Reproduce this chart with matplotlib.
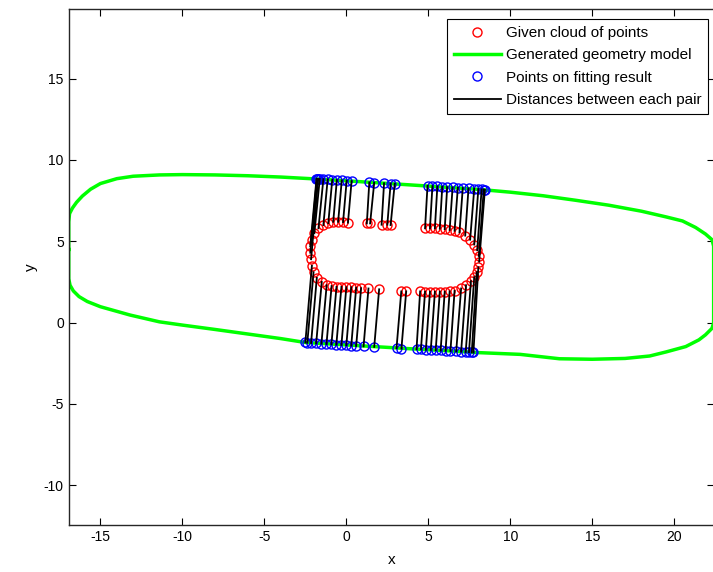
import matplotlib
matplotlib.use("Agg")
import matplotlib.pyplot as plt
import numpy as np

plt.rcParams['font.family'] = ['Liberation Sans', 'DejaVu Sans']
plt.rcParams['axes.unicode_minus'] = False

# generated geometry model (closed outline)
model_x = [-16.93, -16.93, -16.88, -16.7, -16.45, -16.1, -15.6, -15.0, -14.0, -13.0, -11.4, -10.0,
           -8.0, -6.0, -4.0, -2.0, 0.0, 2.0, 4.0, 6.0, 8.0, 10.0, 12.0, 14.0, 16.0,
           18.0, 19.5, 20.5, 21.3, 21.9, 22.3, 22.4, 22.4, 22.3, 21.9, 21.5, 20.7,
           19.5, 18.5, 17.0, 15.0, 13.0, 10.6, 8.0, 6.0, 4.0, 2.0, 0.0, -2.5, -4.0,
           -6.0, -8.0, -10.0, -11.4, -13.2, -15.0, -15.8, -16.3, -16.65, -16.85, -16.93, -16.93]
model_y = [4.5, 6.2, 6.7, 7.05, 7.4, 7.78, 8.2, 8.55, 8.85, 9.0, 9.08, 9.1,
           9.08, 9.03, 8.95, 8.84, 8.72, 8.59, 8.46, 8.33, 8.2, 8.02, 7.8, 7.52, 7.22,
           6.85, 6.5, 6.25, 5.85, 5.45, 5.1, 4.7, 0.0, -0.35, -0.75, -1.06, -1.47,
           -1.8, -2.05, -2.2, -2.25, -2.22, -1.95, -1.84, -1.72, -1.61, -1.49, -1.37, -1.22, -0.98,
           -0.7, -0.42, -0.15, 0.05, 0.47, 0.98, 1.3, 1.6, 1.95, 2.3, 2.7, 4.5]

# given cloud of points
cloud_x = [0.10, -0.20, -0.50, -0.80, -1.10, -1.40, -1.70, -1.95, -2.10, -2.20, -2.20, -2.15,
           -2.10, -2.00, -1.80, -1.50, -1.20, -0.90, -0.60, -0.30, 0.00, 0.30, 0.60, 0.90,
           1.35, 2.00, 3.35, 3.65, 1.25, 1.45, 2.15, 2.50, 2.70,
           4.80, 5.10, 5.40, 5.70, 6.00, 6.30, 6.60, 6.90, 7.25, 7.55, 7.80, 7.98, 8.08, 8.10,
           8.05, 7.95, 7.80, 7.60, 7.30, 7.00, 6.60, 6.30, 6.00, 5.70, 5.40, 5.10, 4.80, 4.50]
cloud_y = [6.15, 6.18, 6.20, 6.20, 6.12, 6.00, 5.80, 5.50, 5.10, 4.70, 4.30, 3.90,
           3.50, 3.10, 2.75, 2.50, 2.30, 2.25, 2.20, 2.20, 2.18, 2.18, 2.15, 2.12,
           2.10, 2.05, 1.92, 1.92, 6.10, 6.10, 6.02, 6.02, 6.00,
           5.80, 5.80, 5.80, 5.78, 5.75, 5.70, 5.65, 5.55, 5.35, 5.10, 4.80, 4.45, 4.10, 3.75,
           3.40, 3.10, 2.80, 2.55, 2.30, 2.10, 1.95, 1.92, 1.90, 1.90, 1.90, 1.90, 1.90, 1.92]

# matching points on the fitting result
fit_x = [0.32, 0.02, -0.28, -0.58, -0.86, -1.14, -1.40, -1.62, -1.74, -1.82, -1.80, -1.72,
         -2.50, -2.38, -2.15, -1.84, -1.52, -1.21, -0.91, -0.61, -0.30, 0.00, 0.30, 0.60,
         1.05, 1.70, 3.06, 3.36, 1.40, 1.70, 2.30, 2.70, 2.95,
         4.95, 5.25, 5.55, 5.85, 6.15, 6.48, 6.80, 7.10, 7.45, 7.80, 8.05, 8.25, 8.38, 8.45,
         7.75, 7.65, 7.48, 7.28, 7.00, 6.70, 6.35, 6.05, 5.75, 5.45, 5.15, 4.85, 4.55, 4.28]
fit_y = [8.70, 8.72, 8.74, 8.76, 8.78, 8.80, 8.82, 8.83, 8.83, 8.84, 8.84, 8.83,
         -1.22, -1.23, -1.25, -1.27, -1.29, -1.31, -1.33, -1.35, -1.37, -1.39, -1.41, -1.43,
         -1.46, -1.49, -1.57, -1.59, 8.62, 8.60, 8.57, 8.55, 8.54,
         8.41, 8.39, 8.37, 8.35, 8.33, 8.31, 8.29, 8.27, 8.25, 8.23, 8.21, 8.19, 8.18, 8.17,
         -1.83, -1.82, -1.81, -1.80, -1.78, -1.76, -1.74, -1.73, -1.71, -1.69, -1.67, -1.66, -1.64, -1.63]

fig = plt.figure(figsize=(7.13, 5.72), dpi=100)
ax = fig.add_axes([0.0964, 0.0827, 0.9045, 0.9010])

ax.plot(cloud_x, cloud_y, 'o', color='red', mfc='none', ms=6.5, mew=1.0,
        label='Given cloud of points')
ax.plot(model_x, model_y, '-', color='#00ff00', lw=2.5, label='Generated geometry model')
ax.plot(fit_x, fit_y, 'o', color='blue', mfc='none', ms=6.5, mew=1.0,
        label='Points on fitting result')
for i in range(len(cloud_x)):
    ax.plot([cloud_x[i], fit_x[i]], [cloud_y[i], fit_y[i]], 'k-', lw=1.3,
            label='Distances between each pair' if i == 0 else None)

ax.set_xlim(-16.93, 22.4)
ax.set_ylim(-12.42, 19.26)
ax.set_xticks([-15, -10, -5, 0, 5, 10, 15, 20])
ax.set_yticks([-10, -5, 0, 5, 10, 15])
ax.tick_params(direction='in', top=True, right=True, length=5, width=0.8, labelsize=10)
for s in ax.spines.values():
    s.set_linewidth(1.0)
    s.set_color('#262626')
ax.set_xlabel('x', fontsize=11, labelpad=7)
ax.set_ylabel('y', fontsize=11)

leg = ax.legend(loc='upper left', bbox_to_anchor=(446.7 / 713, 1 - 19 / 572),
                bbox_transform=fig.transFigure, fontsize=11, frameon=True, fancybox=False,
                edgecolor='black', framealpha=1, handlelength=3.1, handletextpad=0.3,
                labelspacing=0.55, borderpad=0.45, borderaxespad=0)
leg.get_frame().set_linewidth(0.8)

fig.savefig('out.png', dpi=100)
